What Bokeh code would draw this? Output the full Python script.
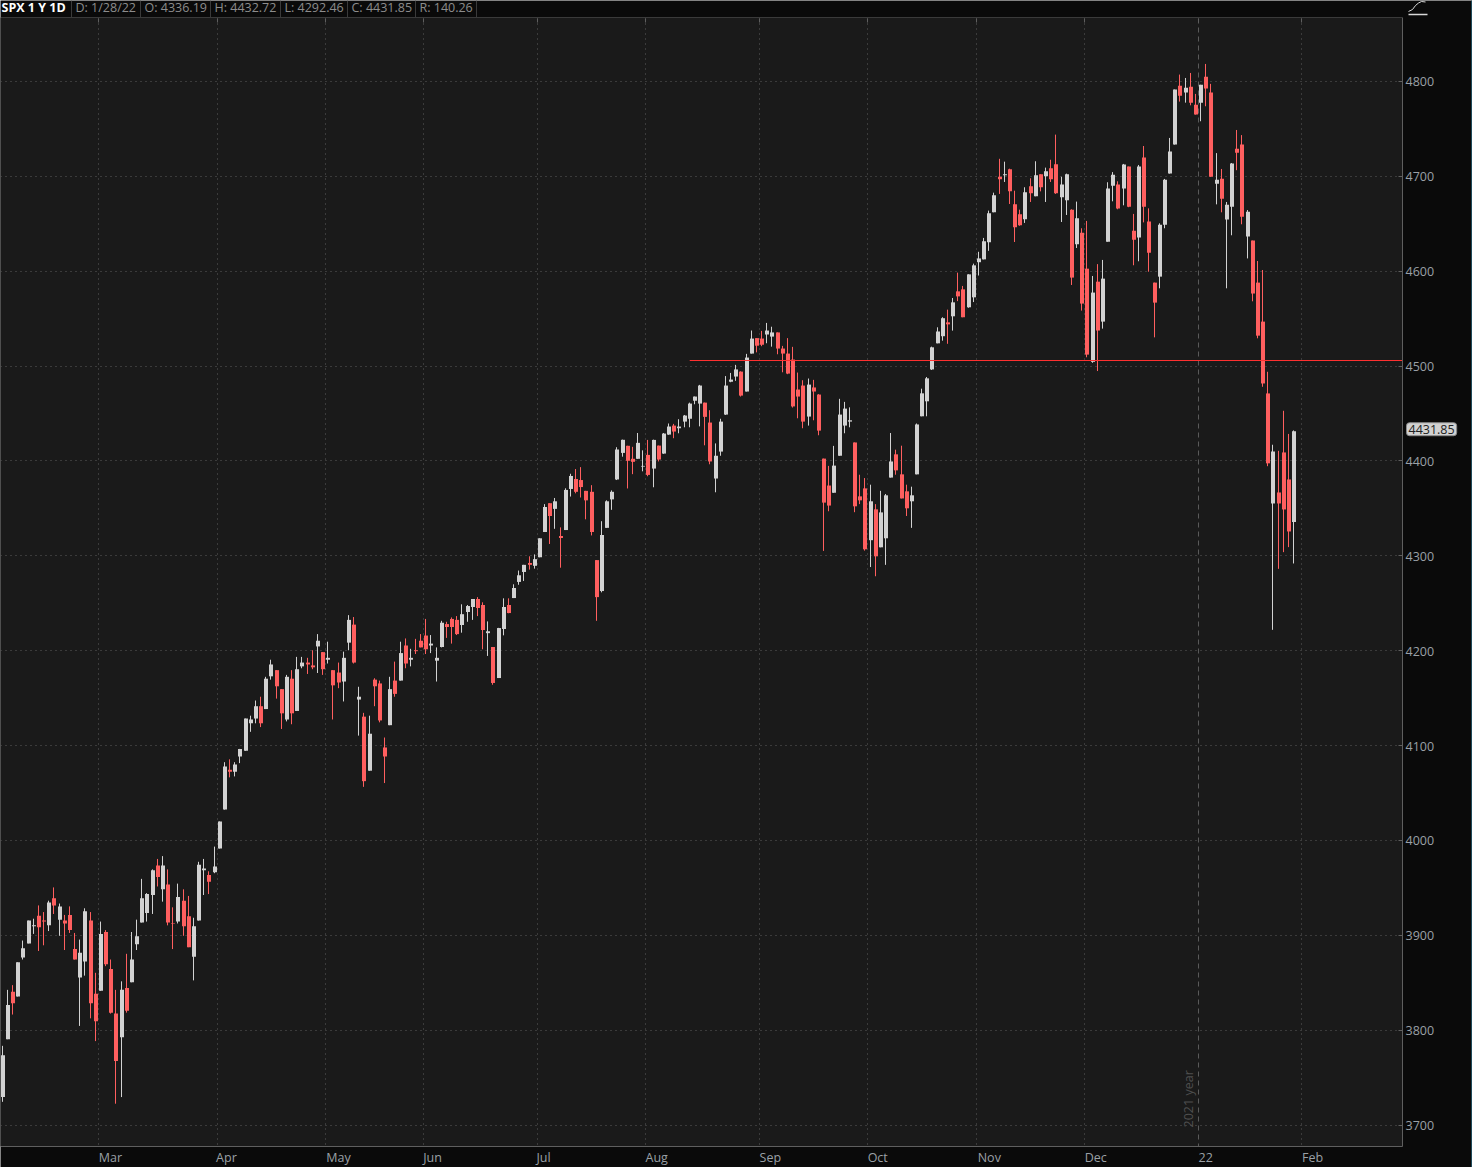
from bokeh.plotting import figure
from bokeh.embed import file_html
from bokeh.resources import INLINE
from bokeh.models import ColumnDataSource, Label, Range1d
from bokeh.core.properties import value
import math

# one row of lists per month-ish block: open, high, low, close
opens = [3730,3791,3841,3836,3877,3892,3910,3921,3916,3911,3939.5,3917,3916,3922,3886,3856,3873,3916,3839,3842,
 3904,3865,3818,3793,3845,3851,3891,3914,3924,3943,3974,3949,3954,3913.5,3915,3937,3920.5,3878,3916,3969,3964,3967,
 3992,4033,4075,4073,4089,4095,4124,4129,4142,4139,4173.5,4180,4160,4128,4171,4137,4184,4188,4185,4205,4199,4191,
 4180,4177.5,4168,4209,4228,4149,4131,4074,4170,4166,4098.5,4122,4169,4169,4206,4191,4201,4211,4216.5,4206,4190,
 4204.4,4228.6,4234,4233,4227.6,4241.3,4246.6,4255,4248.7,4219,4204.4,4171.7,4223.4,4248.7,4256,4273,4283.5,4293,4290,4299,
 4325.6,4356,4350,4321.4,4327.7,4371,4381.5,4380.4,4369,4368,4296,4263.4,4330,4360,4381,4409,4416.5,4402.8,4402.8,4394.6,
 4406.9,4392.5,4416.7,4408.3,4428.3,4437.8,4435,4442,4445,4464,4461,4462,4441,4382,4410.4,4449.4,4484,4489.5,4494.7,4473.7,
 4513.7,4530,4529.5,4533.8,4531.6,4536,4519,4513.7,4507.4,4475.8,4480,4447.3,4478,4470.5,4403,4374.6,4367,4406,4437.8,4442,
 4420,4363.2,4371.6,4317,4349.5,4309.5,4319,4383,4407.5,4386.4,4368.5,4358,4386.4,4447.6,4463.4,4497,4524.5,4532,4546.6,4553,
 4579.3,4581.4,4562.5,4573,4610,4613,4631,4662.6,4700.2,4701.6,4708,4671,4660.5,4655.2,4690,4679.5,4702.7,4700.6,4709,4713.2,
 4678.4,4675.3,4665.4,4629,4641,4603.2,4505,4589.5,4547.4,4631.7,4690.7,4691.8,4687.6,4710.8,4643.3,4636,4720.3,4652.8,4588.5,
 4594.8,4649.6,4703.4,4734,4796,4788.8,4795,4776,4778,4805.6,4788.8,4692.8,4698,4655,4668.6,4729.7,4734,4637,4632.8,4588.5,
 4547.4,4471.7,4355.7,4367.3,4409.5,4381,4336.19]
highs = [3784,3843,3848,3872,3895,3916,3918,3932,3925,3937,3951,3934,3922,3931,3903,3896,3929,3925,3861,3915,
 3906,3875,3843,3852,3881,3904,3917,3960,3945,3970,3981,3984,3970,3930,3955,3949,3942,3919,3978,3981,3968,3994,
 4020.5,4083,4086,4083,4097,4129,4132,4148,4152,4173,4191,4180,4160,4175,4180,4194,4194,4193,4201,4218,4199,4210,
 4180,4188,4199.5,4238,4236,4162.5,4135,4132,4171.5,4169,4109,4173,4189,4210,4213.4,4202.5,4213,4218,4234,4217,4204,
 4232,4231,4235.6,4237,4249.4,4248.7,4255,4257,4251.5,4231.4,4204.4,4224.6,4255.7,4255.7,4270.5,4285,4291,4300,4302,4319,
 4355,4356,4361.5,4330.5,4371.7,4387,4392,4394,4369,4375,4296,4337,4359,4369.5,4415,4423,4416.5,4415.4,4430,4411.7,
 4422.7,4423,4416.7,4430,4440,4439.6,4444.5,4449,4462,4468.4,4480.7,4462,4454,4419,4445,4490,4493.3,4501.8,4495,4513.4,
 4538,4530,4537.6,4546,4542,4536,4521.8,4530,4520.8,4493.7,4485.6,4487.4,4486,4471,4403,4395.3,4416.4,4466,4462.8,4457,
 4420,4386,4382.5,4375.5,4355,4369,4365.7,4430,4412.4,4416.6,4375.5,4373.4,4440,4476.7,4489,4521,4541.4,4552,4560,4572.3,
 4599,4585,4597.3,4608.5,4621,4635.6,4664.4,4683.3,4719,4716,4708.6,4685.4,4665.4,4689,4698.5,4716.4,4702.7,4709.7,4718,4744.5,
 4700,4703.4,4665.8,4673.9,4645.8,4653.5,4595.5,4608,4612.4,4694.3,4705,4695.3,4713.6,4710.8,4660.9,4712.5,4732.5,4666.8,4588.5,
 4651,4697.8,4741,4792,4807.8,4804.2,4809.5,4787.4,4797,4819,4798,4725,4708.3,4673.5,4714.6,4749.4,4744,4665,4632.8,4611.3,
 4601.8,4494.5,4417.6,4411.2,4453.4,4429,4432.72]
lows = [3725,3791,3817,3836,3875,3892,3902,3884,3890,3905,3923,3900,3885,3903,3875,3805,3858,3813,3789,3842,
 3868,3818,3723,3730,3819,3851,3885,3914,3915,3923,3952,3936,3911,3886,3913,3900,3888,3853,3916,3943,3944,3966,
 3992,4033,4067,4068,4082,4095,4115,4124,4120,4139,4170,4150,4118,4126,4123,4137,4182,4176,4181,4177,4175,4187,
 4128,4161,4147,4201,4187,4111,4057,4074,4142,4125,4061,4122,4152,4169,4182,4184,4197,4204,4197,4198,4168,
 4204,4214,4208,4217,4219.5,4231,4233,4237,4202,4195,4164.6,4171.7,4216.7,4240,4256,4270,4274,4286,4287,4299,
 4325.6,4313,4329,4288,4327.7,4363,4366.4,4362,4339,4322,4232,4262,4330,4349,4380.4,4405,4371.5,4386.6,4402.8,4389.6,
 4384.4,4372.8,4400,4408,4428,4424.5,4429.7,4436,4436,4460.3,4437,4417,4397,4367.5,4406,4449,4483.5,4485,4468.4,4473.7,
 4513.7,4515,4521.5,4524.6,4521,4513,4494,4492,4456.8,4445.5,4435,4437.8,4443.4,4427.6,4305.7,4347.5,4367,4406,4429.7,4436,
 4346.5,4355,4306,4288.7,4279,4309.5,4291,4383,4386,4361,4342.5,4330,4386.4,4447.6,4447.6,4496.4,4524.5,4527.3,4524,4537.9,
 4569,4552,4562,4568,4596,4613,4622,4662.6,4682,4694.6,4671.4,4631.3,4648.4,4651.4,4673.5,4679.5,4684.7,4673.5,4694.6,4682,
 4652.4,4659.8,4586,4625,4559,4509.8,4504,4495.3,4540,4631.7,4674.2,4665.8,4670,4668,4606.8,4611,4652,4600,4530.8,
 4582.5,4645.8,4703.4,4734,4779.3,4778.2,4775.4,4765.6,4758.6,4774.4,4700,4671,4662.6,4582.5,4638.4,4707,4650,4614,4568.8,4529.8,
 4478.7,4395,4222.5,4286.8,4304.4,4309.7,4292.46]
closes = [3774,3827,3829,3872,3887,3916,3911,3909,3915,3935,3932,3931,3913,3906,3875,3882,3926,3829,3810,3902,
 3870,3819,3768,3843,3821,3875,3899.5,3939.5,3944,3969,3962,3974,3914,3913,3941,3910,3888,3910,3975,3971,3957,3973,
 4020.5,4078.5,4073,4080.5,4097,4129,4128,4142,4124,4171,4186,4163,4134.5,4173,4134.5,4181,4188,4186,4183,4211,4181,4193,
 4164,4167,4193,4233,4188,4152,4063,4113,4163,4127,4089,4160,4155,4198,4187,4193,4200,4204,4202,4208,4193,
 4230,4225.5,4225.5,4218,4239,4247.6,4255,4245.5,4222.3,4221,4166.5,4224.4,4246.6,4240.2,4266.6,4280,4291,4291,4297,4319,
 4352,4342.5,4358,4319.3,4370,4384.7,4368,4373,4359,4325.6,4257,4322.5,4358,4368,4412.6,4422.8,4400.7,4399.6,4419.6,4395.3,
 4385.8,4422.7,4402,4429.4,4436.8,4431.5,4436.8,4448.4,4461,4468.4,4480,4447,4400,4406,4442,4480,4486.3,4497,4469.4,4509.5,
 4529.5,4522,4523,4538,4536,4519,4513.7,4492.6,4458,4468.4,4442,4481,4473.7,4432.5,4356.6,4353.5,4395.6,4449.4,4455.7,4443.4,
 4352.7,4359,4307.4,4358,4300,4346.3,4364.3,4400,4390.6,4361,4350.6,4364.3,4439,4471.8,4487.6,4520.3,4537,4551,4544.5,4567.7,
 4574,4552,4597.2,4606.7,4614,4632,4661.6,4680.5,4697.4,4702.7,4684.7,4646.8,4649,4683.7,4682.6,4701.6,4689,4705.8,4697.4,4682.6,
 4692,4702.7,4593.8,4656.3,4566.4,4512.6,4578,4538,4592.7,4687.6,4702.3,4666.5,4713,4668.6,4633.8,4710.8,4668.6,4620,4567.4,
 4649.6,4697,4726.6,4792,4785.6,4794,4778.2,4765.6,4797,4793,4700.2,4697,4677,4670.7,4714,4725.5,4658,4663.3,4577,4532.6,
 4482.2,4398,4410.5,4355.7,4349.4,4326.2,4431.85]

y_ticks = [3700, 3800, 3900, 4000, 4100, 4200, 4300, 4400, 4500, 4600, 4700, 4800]
month_labels = ["Mar", "Apr", "May", "Jun", "Jul", "Aug", "Sep", "Oct", "Nov", "Dec", "22", "Feb"]
month_bounds = [18.5, 41.5, 62.5, 81.5, 103.5, 124.5, 146.5, 167.5, 188.5, 209.5, 231.5, 251.5]
label_centres = [20.75, 43.2, 64.9, 83.1, 104.6, 126.5, 148.5, 169.3, 190.9, 211.5, 232.8, 253.5]
level_price = 4505.88
level_start = 132.9
last_close = 4431.85
header_title = "SPX 1 Y 1D"
header_cells = ["D: 1/28/22", "O: 4336.19", "H: 4432.72", "L: 4292.46", "C: 4431.85", "R: 140.26"]
header_x = [75, 144, 214, 284, 351, 419]
header_seps = [71, 140, 210, 280, 347, 415, 476]

assert len(opens) == len(highs) == len(lows) == len(closes), (len(opens), len(highs), len(lows), len(closes))

BG, OUTER = "#1a1a1a", "#0a0a0a"
UP, DOWN = "#d2d2d2", "#ff5f5f"
GRID, AXIS, TICK_TEXT = "#5c5c5c", "#5f5f5f", "#9aa0a6"
FONT = value("Open Sans")
FS = "12.5px"
W, H = 1472, 1167
PLOT_R, PLOT_T, PLOT_B = 1402, 18, 1146
PX, PX0 = 5.165, 2.8                 # pixels per session; pixel of session 0
PY = (PLOT_B - PLOT_T) / (4866.9 - 3677.9)   # pixels per index point


# The axes' panels would clip the header and the price tag, so the frame fills the whole
# page; these two turn a page pixel into the index-session and price scales of the chart.
def xp(px):
    return (px - PX0) / PX


def yp(py):
    return 4866.9 - (py - PLOT_T) / PY


def price_px(v):
    return PLOT_T + (4866.9 - v) * PY


def session_px(i):
    return PX0 + PX * i


def snap(px):
    return math.floor(px)     # the canvas adds half a pixel, so whole numbers stay crisp


idx = list(range(len(opens)))
body_left = [round(PX0 - 2 + PX * i) for i in idx]   # bodies and wicks sit on whole pixels
src = ColumnDataSource(dict(
    xb=[xp(b + 1.5) for b in body_left],
    xw=[xp(b + 1) for b in body_left],
    o=opens, h=highs, l=lows, c=closes,
    top=[max(a, b) for a, b in zip(opens, closes)],
    bot=[min(a, b) for a, b in zip(opens, closes)],
    col=[UP if c >= o else DOWN for o, c in zip(opens, closes)],
))

p = figure(width=W, height=H, output_backend="svg", toolbar_location=None,
           x_range=Range1d(xp(0), xp(W)), y_range=Range1d(yp(H), yp(0)),
           x_axis_location=None, y_axis_location=None, min_border=0,
           background_fill_color=OUTER, border_fill_color=OUTER, outline_line_color=None)
p.grid.visible = False

# plot area
p.quad(left=[xp(-1)], right=[xp(PLOT_R - 0.5)], top=[yp(PLOT_T - 0.5)], bottom=[yp(PLOT_B - 0.5)],
       fill_color=BG, line_color=None, level="underlay")

# dotted grid and the dashed year line
hy = [yp(snap(price_px(v))) for v in y_ticks]
p.segment([xp(0)] * len(hy), hy, [xp(PLOT_R)] * len(hy), hy, color=GRID, line_dash="1 4", line_width=1, level="underlay")
vb = [xp(snap(session_px(b))) for b, l in zip(month_bounds, month_labels) if l != "22"]
p.segment(vb, [yp(PLOT_T)] * len(vb), vb, [yp(PLOT_B)] * len(vb), color=GRID, line_dash="1 4", line_width=1, level="underlay")
year_x = xp(snap(session_px(month_bounds[month_labels.index("22")])))
p.segment([year_x], [yp(PLOT_T)], [year_x], [yp(PLOT_B)], color="#5a5a5a", line_dash="5 4", line_width=1, level="underlay")

# candles
p.segment("xw", "h", "xw", "l", source=src, color="col", line_width=1)
p.vbar("xb", 4 / PX, "bot", "top", source=src, fill_color="col", line_color=None)

# horizontal level
level_y = yp(snap(price_px(level_price)))
p.segment([level_start], [level_y], [xp(PLOT_R)], [level_y], color="#ff3030", line_width=1)

# axes frame
p.segment([xp(PLOT_R)], [yp(17)], [xp(PLOT_R)], [yp(PLOT_B)], color=AXIS, line_width=1)
p.segment([xp(0)], [yp(PLOT_B)], [xp(PLOT_R)], [yp(PLOT_B)], color=AXIS, line_width=1)
p.segment([xp(0)], [yp(17)], [xp(PLOT_R)], [yp(17)], color="#3a3a3a", line_width=1)
p.segment([xp(W - 1)], [yp(0)], [xp(W - 1)], [yp(H)], color="#1f4a5a", line_width=1)

# y ticks and labels
p.segment([xp(PLOT_R - 4)] * len(hy), hy, [xp(PLOT_R)] * len(hy), hy, color=AXIS, line_width=1)
p.text([xp(1405)] * len(y_ticks), y_ticks, text=[str(v) for v in y_ticks], text_color=TICK_TEXT,
       text_font=FONT, text_font_size=FS, text_align="left", text_baseline="middle")

# x ticks and labels
all_b = [xp(snap(session_px(b))) for b in month_bounds]
p.segment(all_b, [yp(PLOT_T)] * len(all_b), all_b, [yp(PLOT_T + 4)] * len(all_b), color=AXIS, line_width=1)
p.text(label_centres, [yp(1157)] * len(label_centres), text=month_labels, text_color=TICK_TEXT,
       text_font=FONT, text_font_size=FS, text_align="center", text_baseline="middle")

# year tag
p.text([xp(1196)], [3698], text=["2021 year"], angle=math.pi / 2, text_color="#4f4f4f",
       text_font=FONT, text_font_size=FS, text_align="left", text_baseline="bottom")

# header strip
p.text([xp(1)], [yp(6.5)], text=[header_title], text_color="#ffffff", text_font=FONT, text_font_size=FS,
       text_font_style="bold", text_align="left", text_baseline="middle")
p.text([xp(h) for h in header_x], [yp(6.5)] * len(header_x), text=header_cells, text_color="#8c8c8c",
       text_font=FONT, text_font_size=FS, text_align="left", text_baseline="middle")
sx = [xp(s) for s in header_seps]
p.segment(sx, [yp(0)] * len(sx), sx, [yp(17)] * len(sx), color="#3a3a3a", line_width=1)

# study icon, top right
icon_px = [1408, 1412, 1415, 1418, 1421, 1425]
icon_py = [11, 9, 5, 2.5, 1, 1.5]
p.line([xp(a) for a in icon_px], [yp(b) for b in icon_py], color="#d8d8d8", line_width=1)
p.segment([xp(1408)], [yp(14)], [xp(1427)], [yp(14)], color="#d8d8d8", line_width=1.6)

# price tag
p.add_layout(Label(x=xp(1406), y=last_close, y_offset=2, text=f"{last_close:.2f}", text_color="#222222",
                   text_font="Open Sans", text_font_size=FS, text_baseline="middle",
                   background_fill_color="#d2d2d2", border_line_color="#8a8a8a", padding=2, border_radius=3))

open("out.html", "w").write(file_html(p, INLINE))
